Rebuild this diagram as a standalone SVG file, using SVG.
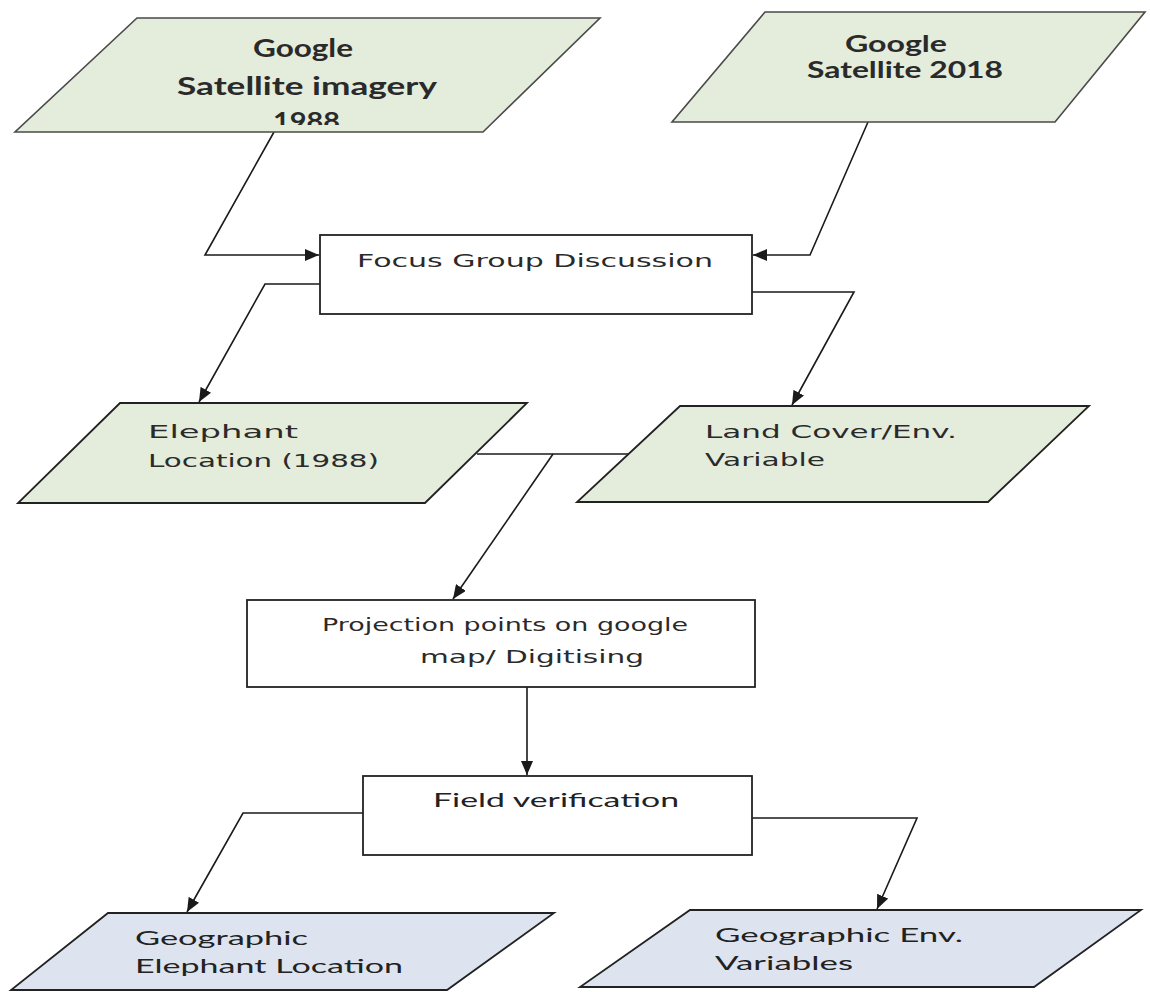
<svg xmlns="http://www.w3.org/2000/svg" width="1150" height="992" viewBox="0 0 1150 992">
<style>
.green{fill:#e4ecdb;stroke:#4a4a4a;stroke-width:1.6}
.green2{fill:#e4ecdb;stroke:#222;stroke-width:1.8}
.blue{fill:#dde4ef;stroke:#222;stroke-width:1.8}
.box{fill:#fff;stroke:#222;stroke-width:1.8}
.conn{fill:none;stroke:#1a1a1a;stroke-width:1.6}
.tb{font-family:Lato,"Liberation Sans",sans-serif;font-weight:bold;font-size:24px;fill:#2a2a2a}
.tb2{font-family:Lato,"Liberation Sans",sans-serif;font-weight:bold;font-size:22px;fill:#2a2a2a}
.tv{font-family:"DejaVu Sans",Verdana,sans-serif;font-size:18px;fill:#2a2a2a}
.tc{font-family:Lato,"Liberation Sans",sans-serif;font-size:20px;fill:#222}
</style>
<defs>
<marker id="arr" markerUnits="userSpaceOnUse" markerWidth="14" markerHeight="12" refX="14" refY="6" orient="auto">
<path d="M0,0 L14,6 L0,12 z" fill="#1a1a1a"/>
</marker>
<clipPath id="clip1"><rect x="15" y="18" width="585" height="107"/></clipPath>
</defs>
<g id="connectors">
<polyline class="conn" points="274,132 205,255 319,255" marker-end="url(#arr)"/>
<polyline class="conn" points="868,122 810,255 753,255" marker-end="url(#arr)"/>
<polyline class="conn" points="320,284 265,284 199,402" marker-end="url(#arr)"/>
<polyline class="conn" points="752,292 854,292 792,405" marker-end="url(#arr)"/>
<line class="conn" x1="477" y1="454" x2="628" y2="454"/>
<line class="conn" x1="553" y1="454" x2="453" y2="599" marker-end="url(#arr)"/>
<line class="conn" x1="527" y1="687" x2="527" y2="775" marker-end="url(#arr)"/>
<polyline class="conn" points="363,813 243,813 187,912" marker-end="url(#arr)"/>
<polyline class="conn" points="752,818 917,818 877,909" marker-end="url(#arr)"/>
</g>
<g id="google1988">
<polygon class="green" points="137,18 600,18 483,132 15,132"/>
<g clip-path="url(#clip1)">
<text class="tb" x="253" y="57" textLength="100" lengthAdjust="spacingAndGlyphs">Google</text>
<text class="tb" x="177" y="95" textLength="260" lengthAdjust="spacingAndGlyphs">Satellite imagery</text>
<text class="tb" x="273" y="130" textLength="67" lengthAdjust="spacingAndGlyphs">1988</text>
</g>
</g>
<g id="google2018">
<polygon class="green" points="765,12 1145,12 1055,122 672,122"/>
<text class="tb2" x="845" y="52" textLength="102" lengthAdjust="spacingAndGlyphs">Google</text>
<text class="tb2" x="807" y="78" textLength="196" lengthAdjust="spacingAndGlyphs">Satellite 2018</text>
</g>
<g id="focus">
<rect class="box" x="320" y="235" width="432" height="79"/>
<text class="tv" x="357" y="267" textLength="356" lengthAdjust="spacingAndGlyphs">Focus Group Discussion</text>
</g>
<g id="elephant1988">
<polygon class="green2" points="120,403 527,403 425,503 18,503"/>
<text class="tv" x="148" y="438" textLength="150" lengthAdjust="spacingAndGlyphs">Elephant</text>
<text class="tv" x="148" y="467" textLength="231" lengthAdjust="spacingAndGlyphs">Location  (1988)</text>
</g>
<g id="landcover">
<polygon class="green2" points="680,406 1089,406 988,502 577,502"/>
<text class="tv" x="705" y="438" textLength="252" lengthAdjust="spacingAndGlyphs">Land Cover/Env.</text>
<text class="tv" x="705" y="466" textLength="120" lengthAdjust="spacingAndGlyphs">Variable</text>
</g>
<g id="projection">
<rect class="box" x="247" y="600" width="508" height="87"/>
<text class="tv" x="322" y="631" textLength="366" lengthAdjust="spacingAndGlyphs">Projection points on google</text>
<text class="tv" x="420" y="663" textLength="224" lengthAdjust="spacingAndGlyphs">map/ Digitising</text>
</g>
<g id="fieldverification">
<rect class="box" x="363" y="776" width="389" height="79"/>
<text class="tc" x="433" y="807" textLength="246" lengthAdjust="spacingAndGlyphs">Field verification</text>
</g>
<g id="geoelephant">
<polygon class="blue" points="108,913 554,913 447,990 11,990"/>
<text class="tc" x="135" y="945" textLength="173" lengthAdjust="spacingAndGlyphs">Geographic</text>
<text class="tc" x="135" y="973" textLength="268" lengthAdjust="spacingAndGlyphs">Elephant Location</text>
</g>
<g id="geoenv">
<polygon class="blue" points="690,910 1141,910 1034,987 580,987"/>
<text class="tc" x="715" y="942" textLength="248" lengthAdjust="spacingAndGlyphs">Geographic Env.</text>
<text class="tc" x="715" y="970" textLength="138" lengthAdjust="spacingAndGlyphs">Variables</text>
</g>
</svg>
